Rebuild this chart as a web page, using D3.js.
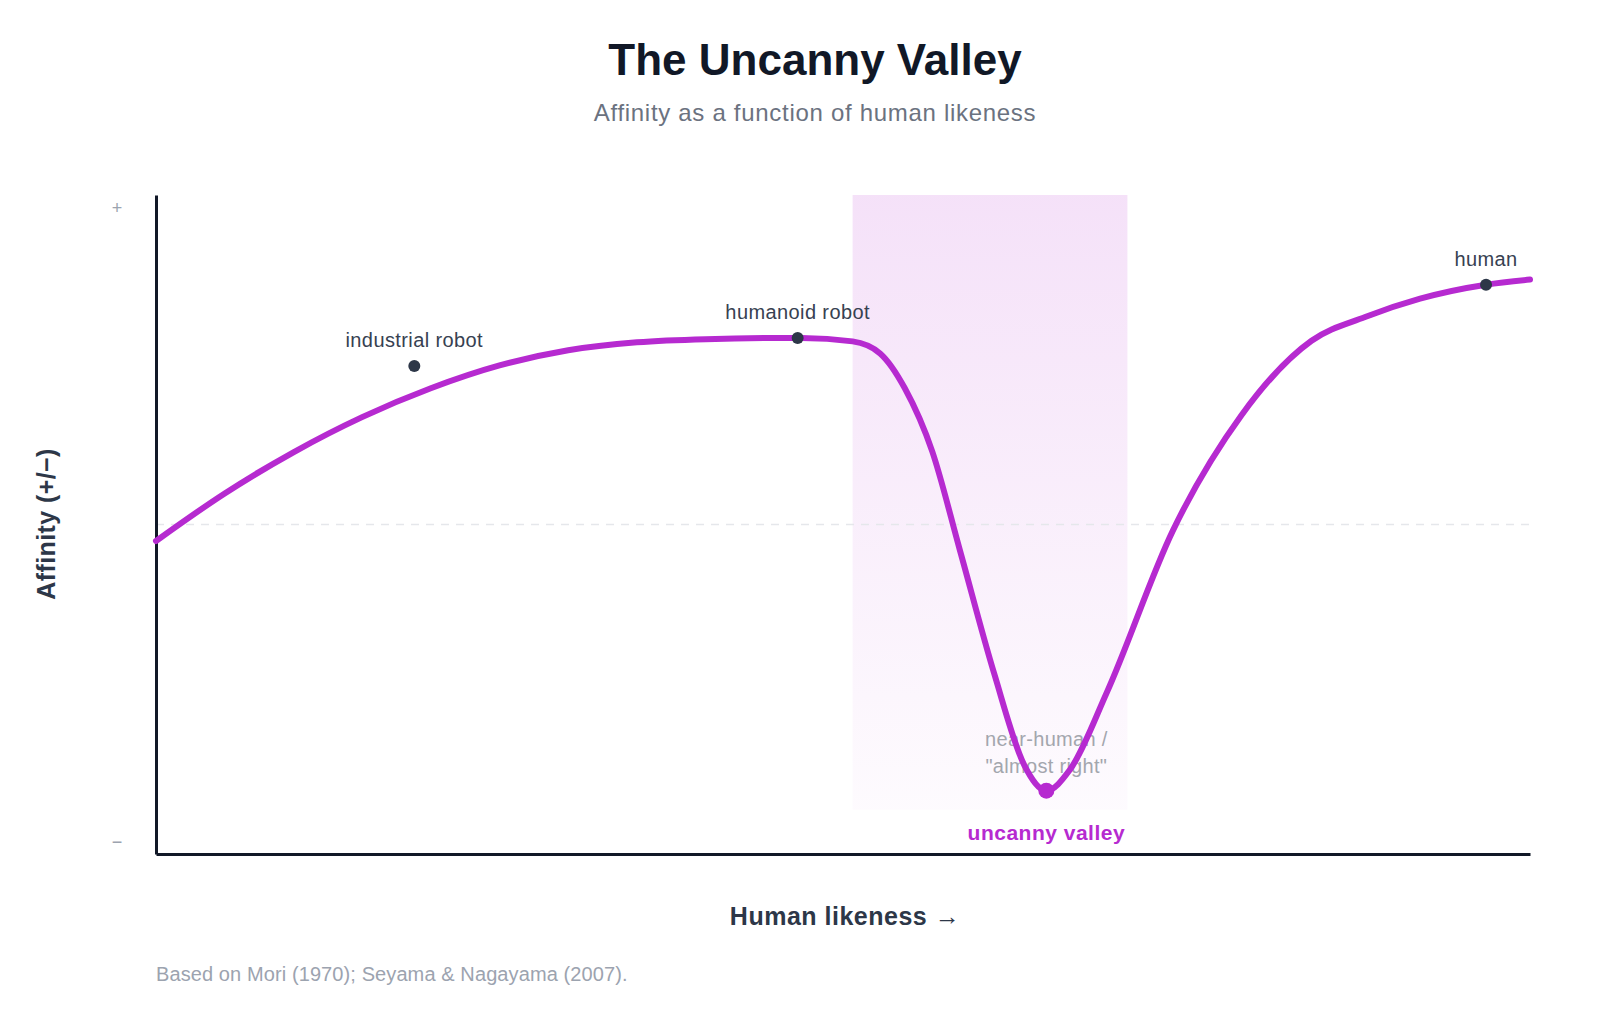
<!DOCTYPE html>
<html>
<head>
<meta charset="utf-8">
<script src="https://cdn.jsdelivr.net/npm/d3@7"></script>
<style>
  html, body { margin: 0; padding: 0; background: #fff; }
  svg { display: block; font-family: "Helvetica Neue", Helvetica, "Liberation Sans", Arial, sans-serif; }
</style>
</head>
<body>
<svg id="chart"></svg>
<script>
// Uncanny valley curve (x = human likeness 0-100, y = affinity)
const curveX = [0, 5, 10, 15, 20, 25, 30, 35, 40, 47, 50.7, 52.7, 54.5, 56.5, 58.5, 61, 63.2, 64.8,
  66.5, 69.2, 74, 79, 84.1, 88, 92, 96.8, 100];
const curveY = [-0.052, 0.098, 0.228, 0.339, 0.43, 0.502, 0.55, 0.575, 0.585, 0.589, 0.578, 0.54, 0.43, 0.23, -0.08, -0.47, -0.76, -0.84,
  -0.775, -0.53, -0.02, 0.345, 0.58, 0.655, 0.713, 0.757, 0.773];

// labelled examples
const pointNames = ["industrial robot", "humanoid robot", "human"];
const pointX = [18.8, 46.7, 96.8];
const pointY = [0.5, 0.589, 0.757];

const valleyX = 64.8;
const valleyY = -0.84;
const valleyNote = ["near-human /", "\"almost right\""];
const valleySpan = [50.7, 70.7];

const yTicks = [1, -1];
const yTickLabels = ["+", "\u2212"];

const width = 1624, height = 1009;
const purple = "#b62ad0";

const svg = d3.select("#chart")
  .attr("width", width)
  .attr("height", height);

const x = d3.scaleLinear().domain([0, 100]).range([156, 1530]);
const y = d3.scaleLinear().domain([-1.04, 1.04]).range([854, 195]);

// title
svg.append("text")
  .attr("x", 815).attr("y", 75)
  .attr("text-anchor", "middle")
  .attr("font-size", 44).attr("font-weight", 700)
  .attr("fill", "#111827")
  .text("The Uncanny Valley");

svg.append("text")
  .attr("x", 815).attr("y", 121)
  .attr("text-anchor", "middle")
  .attr("font-size", 24)
  .attr("letter-spacing", 0.7)
  .attr("fill", "#6b7280")
  .text("Affinity as a function of human likeness");

// shaded valley band
const defs = svg.append("defs");
const grad = defs.append("linearGradient")
  .attr("id", "valleyGrad")
  .attr("x1", 0).attr("y1", 0).attr("x2", 0).attr("y2", 1);
grad.append("stop").attr("offset", "0%").attr("stop-color", purple).attr("stop-opacity", 0.14);
grad.append("stop").attr("offset", "100%").attr("stop-color", purple).attr("stop-opacity", 0.02);

svg.append("rect")
  .attr("x", x(valleySpan[0]))
  .attr("y", y(1.04))
  .attr("width", x(valleySpan[1]) - x(valleySpan[0]))
  .attr("height", y(-0.9) - y(1.04))
  .attr("fill", "url(#valleyGrad)");

// zero line
svg.append("line")
  .attr("x1", x(0)).attr("x2", x(100))
  .attr("y1", y(0)).attr("y2", y(0))
  .attr("stroke", "#e5e7eb")
  .attr("stroke-width", 1.5)
  .attr("stroke-dasharray", "8,7");

// axes
const yAxis = svg.append("g")
  .attr("transform", `translate(${x(0)},0)`)
  .call(d3.axisLeft(y).tickValues(yTicks)
    .tickFormat((d, i) => yTickLabels[i])
    .tickSize(0).tickSizeOuter(0));
yAxis.select(".domain").attr("stroke", "#111827").attr("stroke-width", 3);
yAxis.selectAll("text")
  .attr("x", -39)
  .attr("text-anchor", "middle")
  .attr("font-size", 18)
  .attr("font-family", null)
  .attr("fill", "#9ca3af");

const xAxis = svg.append("g")
  .attr("transform", `translate(0,${y(-1.04)})`)
  .call(d3.axisBottom(x).tickValues([]).tickSizeOuter(0));
xAxis.select(".domain").attr("stroke", "#111827").attr("stroke-width", 3);

svg.append("text")
  .attr("transform", "translate(55,524) rotate(-90)")
  .attr("text-anchor", "middle")
  .attr("font-size", 25).attr("font-weight", 700)
  .attr("letter-spacing", 0.4)
  .attr("fill", "#2d3748")
  .text("Affinity (+/\u2212)");

svg.append("text")
  .attr("x", 845).attr("y", 925)
  .attr("text-anchor", "middle")
  .attr("font-size", 25).attr("font-weight", 700)
  .attr("letter-spacing", 0.5)
  .attr("fill", "#2d3748")
  .text("Human likeness \u2192");

// valley note sits under the curve
svg.selectAll(".note")
  .data(valleyNote)
  .enter().append("text")
  .attr("class", "note")
  .attr("x", x(valleyX))
  .attr("y", (d, i) => y(valleyY) - 45 + i * 27)
  .attr("text-anchor", "middle")
  .attr("font-size", 20)
  .attr("letter-spacing", 0.3)
  .attr("fill", "#a3a6ad")
  .text(d => d);

// curve
const line = d3.line()
  .x(d => x(d[0]))
  .y(d => y(d[1]))
  .curve(d3.curveMonotoneX);

svg.append("path")
  .datum(d3.zip(curveX, curveY))
  .attr("d", line)
  .attr("fill", "none")
  .attr("stroke", purple)
  .attr("stroke-width", 6)
  .attr("stroke-linecap", "round");

// labelled points
const pts = svg.selectAll(".pt")
  .data(d3.zip(pointNames, pointX, pointY))
  .enter().append("g").attr("class", "pt");

pts.append("circle")
  .attr("cx", d => x(d[1]))
  .attr("cy", d => y(d[2]))
  .attr("r", 6)
  .attr("fill", "#2d3748");

pts.append("text")
  .attr("x", d => x(d[1]))
  .attr("y", d => y(d[2]) - 19)
  .attr("text-anchor", "middle")
  .attr("font-size", 20)
  .attr("letter-spacing", 0.4)
  .attr("fill", "#374151")
  .text(d => d[0]);

// valley point
svg.append("circle")
  .attr("cx", x(valleyX))
  .attr("cy", y(valleyY))
  .attr("r", 8)
  .attr("fill", purple);

svg.append("text")
  .attr("x", x(valleyX))
  .attr("y", y(valleyY) + 49)
  .attr("text-anchor", "middle")
  .attr("font-size", 21).attr("font-weight", 700)
  .attr("letter-spacing", 0.5)
  .attr("fill", purple)
  .text("uncanny valley");

// source
svg.append("text")
  .attr("x", 156).attr("y", 981)
  .attr("font-size", 20)
  .attr("letter-spacing", 0.1)
  .attr("fill", "#9ca3af")
  .text("Based on Mori (1970); Seyama & Nagayama (2007).");
</script>
</body>
</html>
